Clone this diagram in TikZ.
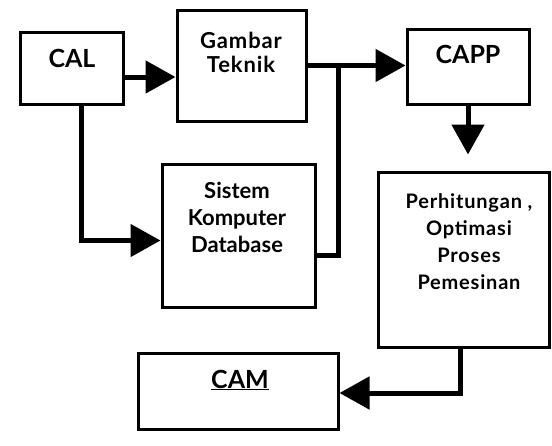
\documentclass[tikz,border=0pt]{standalone}
\usepackage{fontspec}
\setmainfont{Lato}
\newfontfamily\spacedfont[LetterSpace=4]{Lato}
\newfontfamily\headfont[LetterSpace=4]{Lato}
\usetikzlibrary{arrows.meta}
\begin{document}
\begin{tikzpicture}[x=1pt,y=-1pt,
  box/.style={draw=black,line width=3pt,fill=white,inner sep=0pt},
  lbl/.style={align=center,font=\bfseries,inner sep=0pt},
  flow/.style={line width=5pt,line join=miter,-{Triangle[length=30pt,width=32pt]}},
  link/.style={line width=5pt,line join=miter}]
\useasboundingbox[fill=white] (0,0) rectangle (552,445);
\node[box,minimum width=103,minimum height=72] (cal) at (71.5,68) {};
\node[box,minimum width=129,minimum height=111] (gambar) at (241.5,65.5) {};
\node[box,minimum width=122,minimum height=75] (capp) at (468,66.5) {};
\node[box,minimum width=153,minimum height=143] (sistem) at (238.5,235.5) {};
\node[box,minimum width=171,minimum height=175] (perh) at (463.5,259.5) {};
\node[box,minimum width=200,minimum height=76] (cam) at (238,391) {};
\node[lbl,font=\fontsize{25}{27}\selectfont\bfseries] (caltext) at (72,58) {CAL};
\node[lbl,font=\headfont\fontsize{22}{24}\selectfont\bfseries] (gambartext) at (241,52) {Gambar\\Teknik};
\node[lbl,font=\fontsize{25}{27}\selectfont\bfseries] (capptext) at (468,54) {CAPP};
\node[lbl,font=\fontsize{22}{27}\selectfont\bfseries] (sistemtext) at (237,217) {Sistem\\Komputer\\Database};
\node[lbl,font=\spacedfont\fontsize{20}{27}\selectfont\bfseries] (perhtext) at (469,242) {Perhitungan\;,\\Optimasi\\Proses\\Pemesinan};
\node[lbl,font=\fontsize{25}{27}\selectfont\bfseries] (camtext) at (240,380) {\underline{CAM}};
\coordinate (split) at (338,67);
\draw[flow] ([yshift=-9pt]cal.east) -- ([yshift=-9pt]cal.east -| gambar.west);
\draw[flow] (gambar.east) -- (gambar.east -| capp.west);
\draw[link] (split) |- ([yshift=-20pt]sistem.east);
\draw[flow] ([xshift=10pt]cal.south) |- ([yshift=-5pt]sistem.west);
\draw[flow] (capp.south) -- ++(0,49);
\draw[flow] ([xshift=-3pt]perh.south) |- ([yshift=-2pt]cam.east);
\end{tikzpicture}
\end{document}
